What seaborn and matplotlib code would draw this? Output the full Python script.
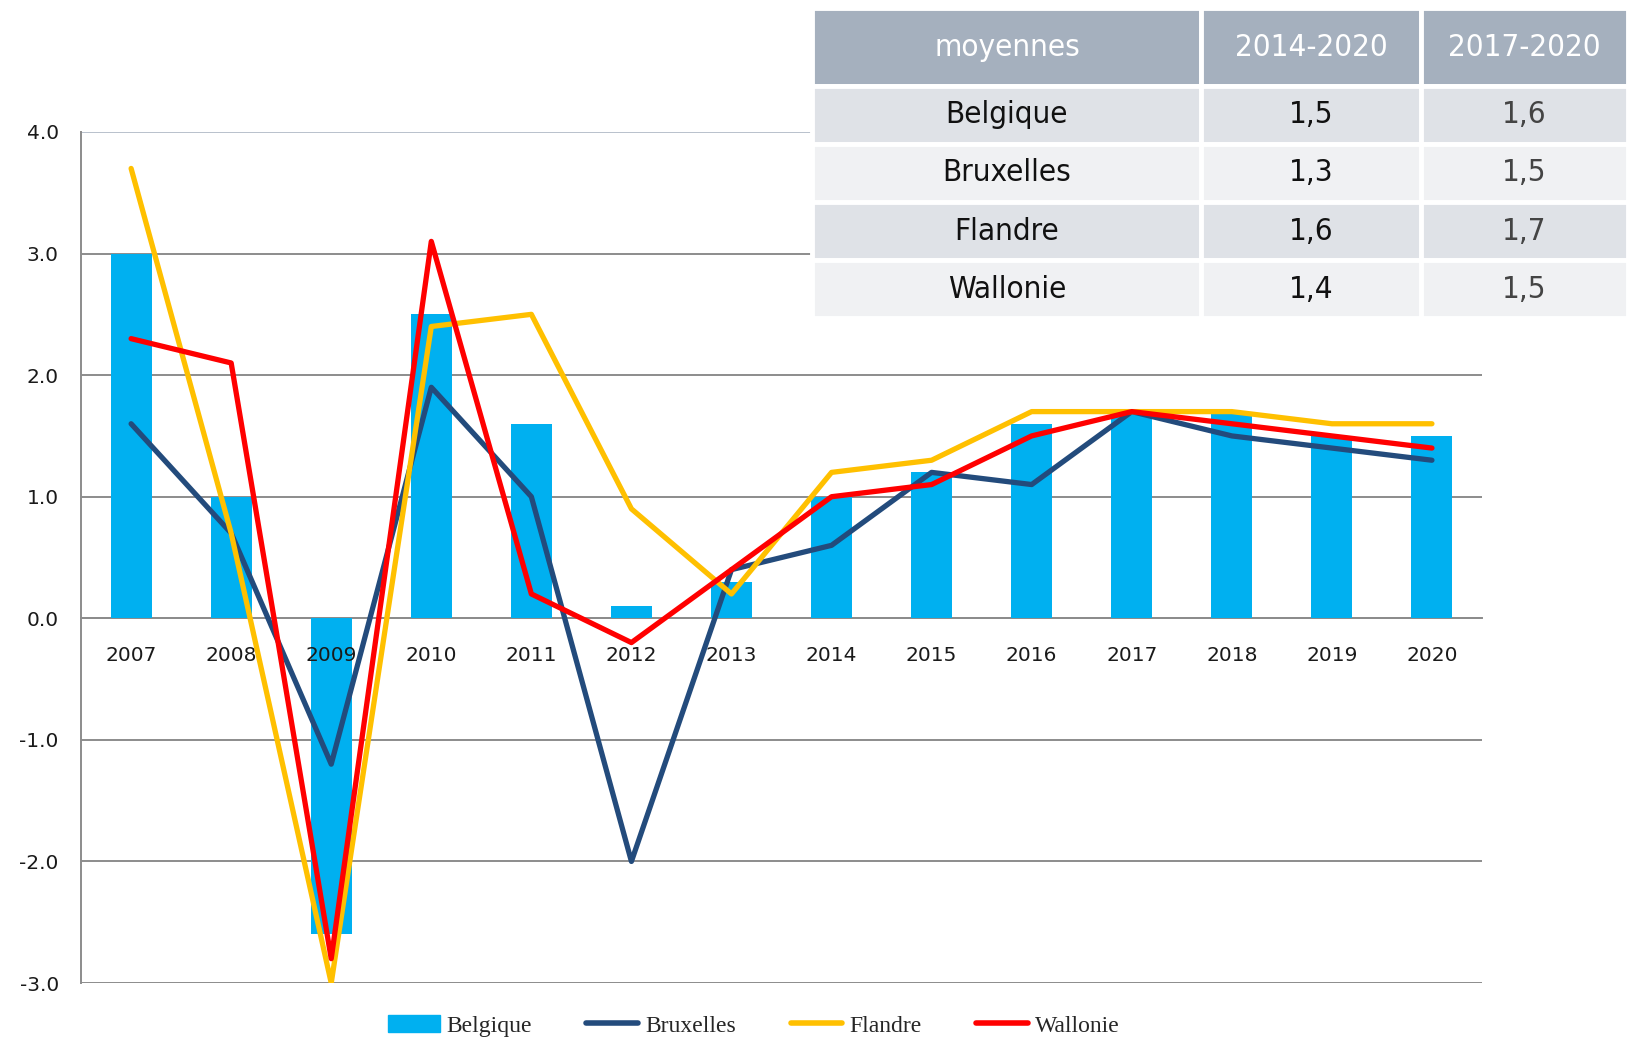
import numpy as np
import pandas as pd
import seaborn as sns
import matplotlib.pyplot as plt
from matplotlib.lines import Line2D
from matplotlib.patches import Patch
from matplotlib.ticker import FixedLocator, FormatStrFormatter

years = ["2007", "2008", "2009", "2010", "2011", "2012", "2013",
         "2014", "2015", "2016", "2017", "2018", "2019", "2020"]
belgique = [3.0, 1.0, -2.6, 2.5, 1.6, 0.1, 0.3, 1.0, 1.2, 1.6, 1.7, 1.7, 1.5, 1.5]
bruxelles = [1.6, 0.7, -1.2, 1.9, 1.0, -2.0, 0.4, 0.6, 1.2, 1.1, 1.7, 1.5, 1.4, 1.3]
flandre = [3.7, 0.7, -3.0, 2.4, 2.5, 0.9, 0.2, 1.2, 1.3, 1.7, 1.7, 1.7, 1.6, 1.6]
wallonie = [2.3, 2.1, -2.8, 3.1, 0.2, -0.2, 0.4, 1.0, 1.1, 1.5, 1.7, 1.6, 1.5, 1.4]
y_ticks = [-3, -2, -1, 0, 1, 2, 3, 4]

table_header = ["moyennes", "2014-2020", "2017-2020"]
table_regions = ["Belgique", "Bruxelles", "Flandre", "Wallonie"]
avg_2014_2020 = ["1,5", "1,3", "1,6", "1,4"]
avg_2017_2020 = ["1,6", "1,5", "1,7", "1,5"]

C_BEL = "#00B0F0"
C_BRU = "#234B7C"
C_FLA = "#FFC000"
C_WAL = "#FF0000"
GRID = "#8C8C8C"

sns.set_style("white")
plt.rcParams["font.family"] = ["DejaVu Sans"]
plt.rcParams["axes.unicode_minus"] = False

df = pd.DataFrame({"year": years, "Belgique": belgique, "Bruxelles": bruxelles,
                   "Flandre": flandre, "Wallonie": wallonie})

fig = plt.figure(figsize=(16.28, 10.4), dpi=100)
ax = fig.add_axes([0.0498, 0.0548, 0.8605, 0.8183])

# horizontal gridlines under the bars
for y in y_ticks:
    ax.axhline(y, color="#B9C1CC" if y == max(y_ticks) else GRID, lw=1.4, zorder=0.5)

sns.barplot(data=df, x="year", y="Belgique", color=C_BEL, width=0.41,
            saturation=1, linewidth=0, ax=ax, zorder=2)
for col, c in [("Bruxelles", C_BRU), ("Flandre", C_FLA), ("Wallonie", C_WAL)]:
    sns.lineplot(data=df, x="year", y=col, color=c, lw=3.8, sort=False, ax=ax, zorder=3)

ax.set_xlim(-0.5, len(years) - 0.5)
ax.set_ylim(-3, 4)
ax.set_xlabel("")
ax.set_ylabel("")
ax.yaxis.set_major_locator(FixedLocator(y_ticks))
ax.yaxis.set_major_formatter(FormatStrFormatter("%.1f"))
ax.grid(False)
ax.set_axisbelow(False)

for s in ["top", "right"]:
    ax.spines[s].set_visible(False)
ax.spines["left"].set_color(GRID)
ax.spines["left"].set_linewidth(1.4)
ax.spines["bottom"].set_position(("data", 0))
ax.spines["bottom"].set_color(GRID)
ax.spines["bottom"].set_linewidth(1.4)
ax.spines["bottom"].set_zorder(1)

ax.tick_params(axis="x", which="major", length=0, pad=20, labelsize=14.5, labelcolor="#1a1a1a")
ax.set_xticks(np.arange(-0.5, len(years), 1), minor=True)
ax.tick_params(axis="x", which="minor", length=7, width=1.4, color=GRID, direction="out")
ax.tick_params(axis="y", length=8, width=1.4, color=GRID, pad=8, labelsize=14.5,
               labelcolor="#1a1a1a")

handles = [Patch(color=C_BEL, label="Belgique"),
           Line2D([], [], color=C_BRU, lw=4, label="Bruxelles"),
           Line2D([], [], color=C_FLA, lw=4, label="Flandre"),
           Line2D([], [], color=C_WAL, lw=4, label="Wallonie")]
fig.legend(handles=handles, loc="center", bbox_to_anchor=(0.463, 0.0135), ncol=4,
           frameon=False, handlelength=2.2, handletextpad=0.3, columnspacing=2.3,
           prop={"family": "Liberation Serif", "size": 17})

# summary table in the upper right
tax = fig.add_axes([0.499, 0.694, 0.501, 0.298])
tax.axis("off")
cells = [[r, a, b] for r, a, b in zip(table_regions, avg_2014_2020, avg_2017_2020)]
row_cols = ["#DFE2E7", "#F0F1F3", "#DFE2E7", "#F0F1F3"]
tbl = tax.table(cellText=cells, colLabels=table_header, cellLoc="center",
                colWidths=[0.477, 0.269, 0.254],
                cellColours=[[c] * 3 for c in row_cols],
                colColours=["#A5B0BE"] * 3, bbox=[0, 0, 1, 1])
tbl.auto_set_font_size(False)
for (r, c), cell in tbl.get_celld().items():
    cell.set_edgecolor("white")
    cell.set_linewidth(3.5)
    txt = cell.get_text()
    txt.set_fontsize(22.5)
    txt.set_fontfamily("DejaVu Sans")
    txt.set_fontstretch("condensed")
    if r == 0:
        cell.set_height(0.25)
        txt.set_color("white")
    else:
        cell.set_height(0.1875)
        txt.set_color("#444444" if c == 2 else "#111111")

fig.savefig("out.png", dpi=100)
